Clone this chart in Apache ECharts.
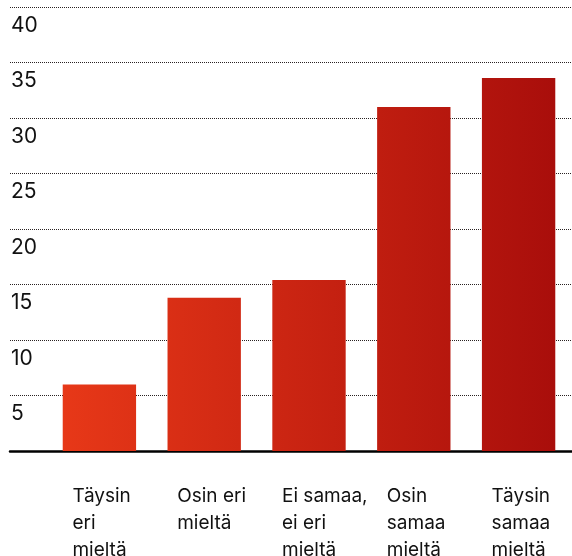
<!DOCTYPE html>
<html>
<head>
<meta charset="utf-8">
<script src="https://cdn.jsdelivr.net/npm/echarts@6/dist/echarts.min.js"></script>
<style>
  html, body { margin: 0; padding: 0; background: #fff; }
  #chart { width: 572px; height: 556px; }
</style>
</head>
<body>
<div id="chart"></div>
<script>
// Survey answer categories (each line of a label is separated by \n)
const categories = [
  'Täysin\neri\nmieltä',
  'Osin eri\nmieltä',
  'Ei samaa,\nei eri\nmieltä',
  'Osin\nsamaa\nmieltä',
  'Täysin\nsamaa\nmieltä'
];
// Share of respondents per answer
const values = [6.0, 13.8, 15.4, 31.0, 33.6];
// Value axis ticks
const yTicks = [0, 5, 10, 15, 20, 25, 30, 35, 40];

const FONT = 'Inter, "Noto Sans", sans-serif';
const TOP = 7, BOTTOM = 105;

const chart = echarts.init(document.getElementById('chart'), null, { renderer: 'canvas' });

const barColor = new echarts.graphic.LinearGradient(63, 0, 555, 0, [
  { offset: 0, color: '#e73818' },
  { offset: 1, color: '#a90e0b' }
], true);

chart.setOption({
  animation: false,
  backgroundColor: '#fff',
  grid: [
    // full-width grid carrying the dotted guide lines and the baseline
    { left: 10, right: 0, top: TOP, bottom: BOTTOM, containLabel: false, outerBoundsMode: 'none' },
    // grid holding the bars and category labels
    { left: 47, right: 1, top: TOP, bottom: BOTTOM, containLabel: false, outerBoundsMode: 'none' }
  ],
  xAxis: [
    {
      gridIndex: 0,
      type: 'category',
      data: categories,
      axisLine: { show: true, lineStyle: { color: '#000', width: 2.5 } },
      axisTick: { show: false },
      axisLabel: { show: false },
      splitLine: { show: false }
    },
    {
      gridIndex: 1,
      type: 'category',
      data: categories,
      axisLine: { show: false },
      axisTick: { show: false },
      splitLine: { show: false },
      axisLabel: {
        interval: 0,
        margin: 32,
        align: 'center',
        verticalAlign: 'top',
        formatter: v => v.split('\n').map(s => '{a|' + s + '}').join('\n'),
        rich: {
          a: {
            width: 54,
            align: 'left',
            fontFamily: FONT,
            fontSize: 19,
            lineHeight: 27,
            color: '#111'
          }
        }
      }
    }
  ],
  yAxis: [
    {
      gridIndex: 0,
      type: 'value',
      min: yTicks[0],
      max: yTicks[yTicks.length - 1],
      interval: 5,
      axisLine: { show: false },
      axisTick: { show: false },
      splitLine: { show: true, lineStyle: { color: '#2a2222', width: 1, type: [1, 1] } },
      axisLabel: {
        inside: true,
        margin: 1,
        showMinLabel: false,
        verticalAlign: 'top',
        padding: [8, 0, 0, 0],
        fontFamily: FONT,
        fontSize: 21,
        color: '#111',
        formatter: v => (yTicks.indexOf(v) > 0 ? String(v) : '')
      }
    },
    {
      gridIndex: 1,
      type: 'value',
      min: yTicks[0],
      max: yTicks[yTicks.length - 1],
      interval: 5,
      show: false
    }
  ],
  series: [
    {
      type: 'bar',
      xAxisIndex: 1,
      yAxisIndex: 1,
      data: values,
      barWidth: '70%',
      itemStyle: { color: barColor },
      z: 3
    }
  ]
});
</script>
</body>
</html>
